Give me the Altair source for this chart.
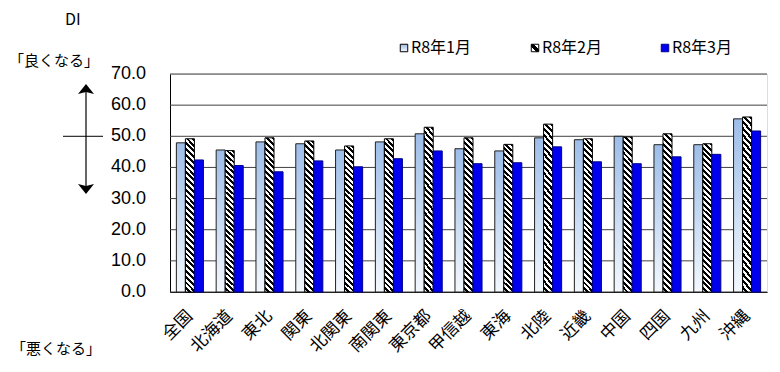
import altair as alt
import pandas as pd

regions = ["全国", "北海道", "東北", "関東", "北関東", "南関東", "東京都", "甲信越",
           "東海", "北陸", "近畿", "中国", "四国", "九州", "沖縄"]
series = ["R8年1月", "R8年2月", "R8年3月"]
jan = [47.9, 45.6, 48.2, 47.6, 45.6, 48.2, 50.8, 46.0, 45.3, 49.5, 48.9, 50.0, 47.3, 47.3, 55.6]
feb = [49.2, 45.4, 49.5, 48.5, 46.9, 49.2, 52.9, 49.5, 47.4, 53.9, 49.2, 49.8, 50.8, 47.6, 56.2]
mar = [42.4, 40.6, 38.6, 42.1, 40.2, 42.8, 45.3, 41.2, 41.5, 46.6, 41.8, 41.2, 43.4, 44.2, 51.7]
y_ticks = [0, 10, 20, 30, 40, 50, 60, 70]

rows = []
for s, vals in zip(series, [jan, feb, mar]):
    for r, v in zip(regions, vals):
        rows.append({"region": r, "series": s, "value": v})
df = pd.DataFrame(rows)
ticks_df = pd.DataFrame({"value": y_ticks})

FONT = "Noto Sans CJK JP"
NUMFONT = "Liberation Sans"
PW, PH = 597, 218

light = {"gradient": "linear", "x1": 0, "y1": 0, "x2": 0, "y2": 1,
         "stops": [{"offset": 0, "color": "#9dbde8"}, {"offset": 1, "color": "#f4f8fd"}]}


def hatch(n, x2, y2):
    stops = []
    for i in range(n):
        a, b, c = i / n, (i + 0.5) / n, (i + 1) / n
        stops += [{"offset": a, "color": "#000000"}, {"offset": b, "color": "#000000"},
                  {"offset": b, "color": "#ffffff"}, {"offset": c, "color": "#ffffff"}]
    return {"gradient": "linear", "x1": 1, "y1": 0, "x2": x2, "y2": y2, "stops": stops}


bar_hatch = hatch(28, 0.937, 1.056)
legend_hatch = {"gradient": "linear", "x1": 1, "y1": 0, "x2": 0, "y2": 1,
                "stops": [{"offset": 0, "color": "#ffffff"}, {"offset": 0.33, "color": "#ffffff"},
                          {"offset": 0.33, "color": "#000000"}, {"offset": 0.67, "color": "#000000"},
                          {"offset": 0.67, "color": "#ffffff"}, {"offset": 1, "color": "#ffffff"}]}
blue = "#0000ee"

fills = [light, bar_hatch, blue]
strokes = ["#202020", "#000000", "#00008b"]
legend_fills = [light, legend_hatch, blue]

x_enc = alt.X("region:N", sort=regions,
              scale=alt.Scale(paddingInner=0.32, paddingOuter=0.16),
              axis=alt.Axis(title=None, labelAngle=-45, labelAlign="right", labelBaseline="middle",
                            labelFontSize=17, labelPadding=21, ticks=False, domainColor="#000000",
                            labelColor="#000000", labelFont=FONT, labelOverlap=False))
y_scale = alt.Scale(domain=[0, 70], nice=False)
y_axis = alt.Axis(title=None, grid=False, labels=False, ticks=False, domainColor="#000000")
y_enc = alt.Y("value:Q", scale=y_scale, axis=y_axis)
xo_enc = alt.XOffset("series:N", scale=alt.Scale(domain=series, paddingInner=0, paddingOuter=0))

layers = []
# gridlines and y labels from the tick list, placed by the y scale
layers.append(alt.Chart(ticks_df).mark_rule(color="#404040", strokeWidth=1).encode(y=y_enc))
layers.append(alt.Chart(ticks_df).mark_text(align="right", baseline="middle", fontSize=18,
                                            font=NUMFONT, color="#000000")
              .encode(x=alt.value(-24), y=y_enc, text=alt.Text("value:Q", format=".1f")))

for s, f, st in zip(series, fills, strokes):
    layers.append(
        alt.Chart(df).transform_filter(alt.datum.series == s)
        .mark_bar(fill=f, stroke=st, strokeWidth=1)
        .encode(x=x_enc, xOffset=xo_enc, y=y_enc)
    )

one = pd.DataFrame({"k": [0]})

# legend
leg_sq_x = [234, 365, 495]
for s, f, st, lx in zip(series, legend_fills, strokes, leg_sq_x):
    layers.append(alt.Chart(one).mark_point(shape="square", filled=True, size=56, fill=f,
                                            stroke=st if s != series[0] else "#000000",
                                            strokeWidth=1, opacity=1)
                  .encode(x=alt.value(lx), y=alt.value(-26)))
    layers.append(alt.Chart(one).mark_text(text=s, align="left", baseline="middle", fontSize=16,
                                           font=FONT, color="#000000")
                  .encode(x=alt.value(lx + 7), y=alt.value(-26)))

# side annotations
layers.append(alt.Chart(one).mark_text(text="DI", align="left", baseline="middle", fontSize=16,
                                       font=FONT, color="#000000")
              .encode(x=alt.value(-105), y=alt.value(-54)))
layers.append(alt.Chart(one).mark_text(text="「良くなる」", align="center", baseline="middle",
                                       fontSize=15, font=FONT, color="#000000")
              .encode(x=alt.value(-116), y=alt.value(-13)))
layers.append(alt.Chart(one).mark_text(text="「悪くなる」", align="center", baseline="middle",
                                       fontSize=15, font=FONT, color="#000000")
              .encode(x=alt.value(-114), y=alt.value(275)))
layers.append(alt.Chart(one).mark_rule(color="#000000", strokeWidth=1.2)
              .encode(x=alt.value(-84), y=alt.value(15), y2=alt.value(115)))
layers.append(alt.Chart(one).mark_point(shape="M0,-0.5L0.8,0.5L0,0.3L-0.8,0.5Z", filled=True,
                                        size=400, color="#000000", opacity=1)
              .encode(x=alt.value(-84), y=alt.value(15)))
layers.append(alt.Chart(one).mark_point(shape="M0,0.5L0.8,-0.5L0,-0.3L-0.8,-0.5Z", filled=True,
                                        size=400, color="#000000", opacity=1)
              .encode(x=alt.value(-84), y=alt.value(115)))
layers.append(alt.Chart(pd.DataFrame({"value": [50]})).mark_rule(color="#000000", strokeWidth=1)
              .encode(x=alt.value(-107), x2=alt.value(-67), y=y_enc))

chart = alt.layer(*layers).properties(
    width=PW, height=PH,
    autosize=alt.AutoSizeParams(type="none"),
    padding={"left": 162, "top": 66, "right": 5, "bottom": 70},
).configure_view(stroke="#808080").configure(font=FONT)

chart.save("out.html", embed_options={"renderer": "svg", "actions": False})
